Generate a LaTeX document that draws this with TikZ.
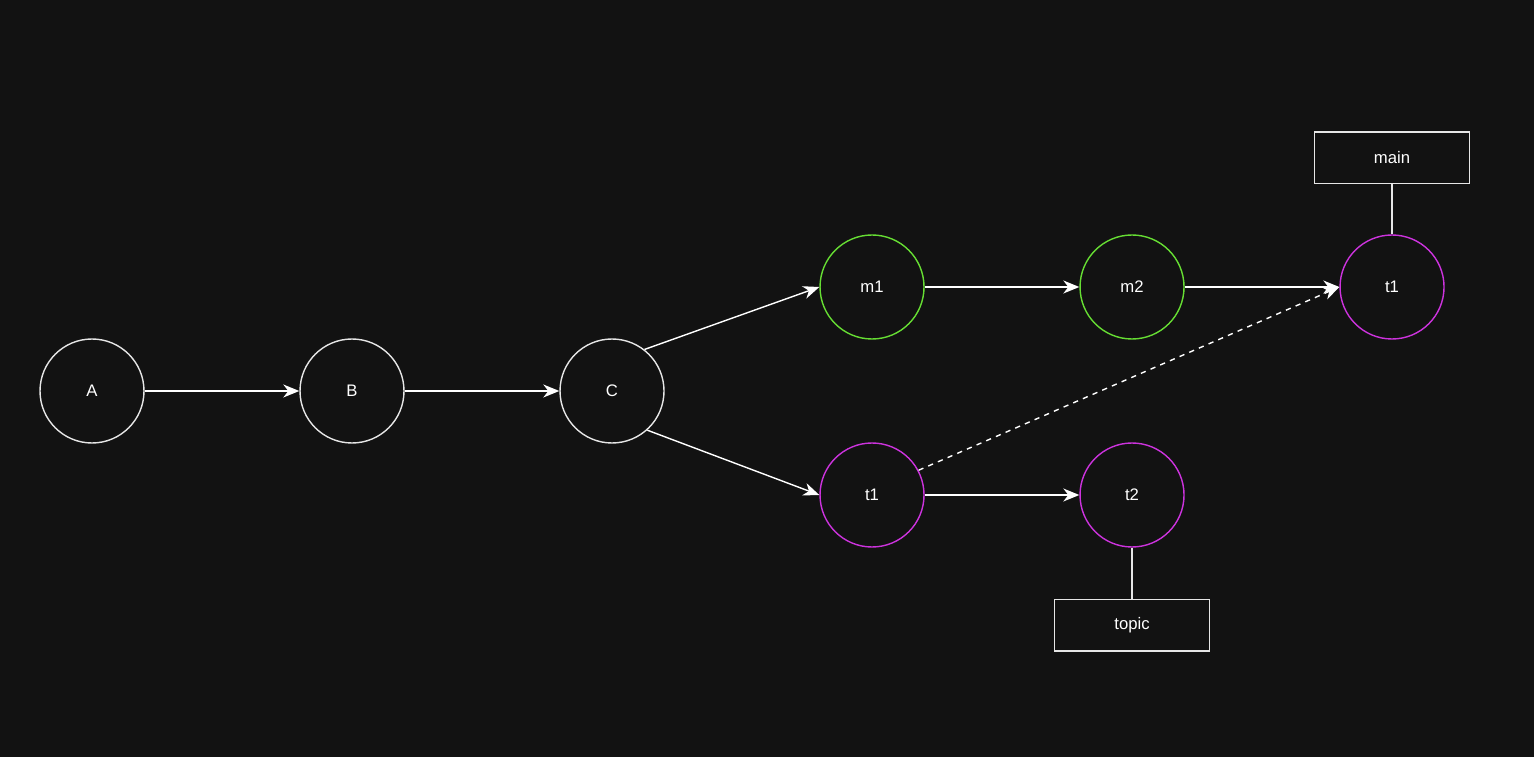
\documentclass[tikz,border=0pt]{standalone}
\usepackage{fontspec}
\setmainfont{Liberation Sans}
\usetikzlibrary{arrows.meta,positioning}
\definecolor{bgdark}{RGB}{18,18,18}
\definecolor{linegrey}{RGB}{230,230,230}
\definecolor{maingreen}{RGB}{102,221,51}
\definecolor{topicpink}{RGB}{204,51,221}

\begin{document}
\begin{tikzpicture}[node distance=3.092cm,
        every node/.style={text=white,font=\fontsize{9.5}{11}\selectfont},
        commit/.style={circle,draw=linegrey,line width=0.8pt,minimum size=2.08cm,inner sep=0pt},
        mcommit/.style={commit,draw=maingreen},
        tcommit/.style={commit,draw=topicpink},
        branch/.style={rectangle,draw=linegrey,line width=0.8pt,minimum width=3.1cm,minimum height=1.03cm},
        arrow/.style={-{Stealth[length=3.2mm,width=2.6mm,inset=1mm]},draw=white,line width=0.8pt},
        link/.style={draw=linegrey,line width=0.8pt}]
        \useasboundingbox (0,0) rectangle (30.68,15.12);
        \fill[bgdark] (-0.2,-0.2) rectangle (30.88,15.32);
        \node[commit] (a) at (1.84,7.3) {A};
        \node[commit,right=of a] (b) {B};
        \node[commit,right=of b] (c) {C};
        \node[mcommit,right=of c,yshift=2.08cm] (m1) {m1};
        \node[mcommit,right=of m1] (m2) {m2};
        \node[tcommit,right=of m2] (t1new) {t1};
        \node[tcommit,right=of c,yshift=-2.08cm] (t1) {t1};
        \node[tcommit,right=of t1] (t2) {t2};
        \node[branch,above=1.0cm of t1new] (main) {main};
        \node[branch,below=1.02cm of t2] (topic) {topic};
        \draw[arrow] (a) -- (b);
        \draw[arrow] (b) -- (c);
        \draw[arrow] (c.52) -- (m1.west);
        \draw[arrow] (c.-48) -- (t1.west);
        \draw[arrow] (m1) -- (m2);
        \draw[arrow] (m2) -- (t1new);
        \draw[arrow] (t1) -- (t2);
        \draw[arrow,dashed] (t1.28) -- (t1new.west);
        \draw[link] (main) -- (t1new);
        \draw[link] (t2) -- (topic);
      \end{tikzpicture}
\end{document}
